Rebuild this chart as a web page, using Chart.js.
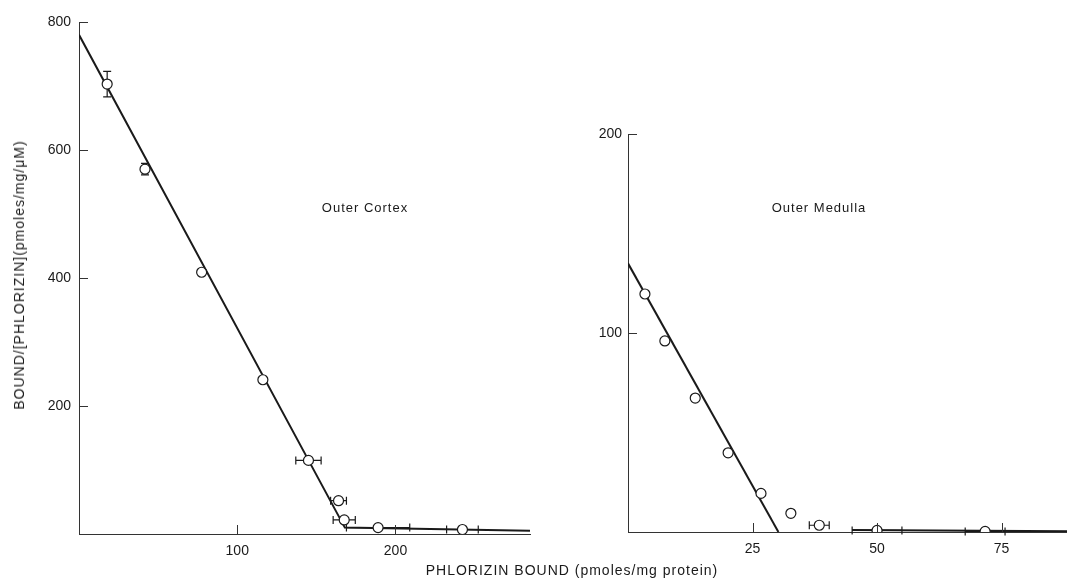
<!DOCTYPE html>
<html><head><meta charset="utf-8">
<script src="https://cdn.jsdelivr.net/npm/chart.js@4/dist/chart.umd.min.js"></script>
<style>
html,body{margin:0;padding:0;background:#fff}
body{width:1067px;height:582px;overflow:hidden;position:relative;font-family:"Liberation Sans",Arial,sans-serif;color:#1a1a1a}
canvas{position:absolute;top:0}
#c1{left:0}
#c2{left:540px}
.lbl{position:absolute;font-size:13px;letter-spacing:1px;white-space:nowrap;transform:translate(-50%,-50%)}
.big{font-size:14px}
</style></head><body>
<canvas id="c1" width="540" height="582" style="width:540px;height:582px"></canvas>
<canvas id="c2" width="535" height="582" style="width:535px;height:582px"></canvas>
<div class="lbl" style="left:365px;top:207px">Outer Cortex</div>
<div class="lbl" style="left:819px;top:207px">Outer Medulla</div>
<div class="lbl big" style="left:572px;top:570px">PHLORIZIN BOUND (pmoles/mg protein)</div>
<div class="lbl big" style="left:19px;top:275px;transform:translate(-50%,-50%) rotate(-90deg)">BOUND/[PHLORIZIN](pmoles/mg/μM)</div>
<script>
// ---- Outer Cortex data ----
const cortexX    = [17.8, 41.7, 77.5, 116.2, 145, 164, 167.6, 189, 242.3];
const cortexY    = [703, 570, 409, 241, 115, 52, 22, 10, 7];
const cortexXErr = [0, 0, 0, 0, 8, 5, 7, 20, 10];
const cortexYErr = [20, 9, 0, 0, 0, 0, 0, 0, 0];
const cortexFitX = [0, 168, 285];
const cortexFitY = [780, 10, 5];
const cortexXTicks = [100, 200];
const cortexYTicks = [200, 400, 600, 800];

// ---- Outer Medulla data ----
const medullaX    = [3.4, 7.4, 13.5, 20.1, 26.7, 32.7, 38.4, 50, 71.7];
const medullaY    = [119.6, 96, 67.3, 39.8, 19.4, 9.4, 3.4, 0.8, 0.3];
const medullaXErr = [0, 0, 0, 0, 0, 0, 2, 5, 4];
const medullaYErr = [0, 0, 0, 0, 0, 0, 0, 0, 0];
const medullaFitX  = [0, 30.2];
const medullaFitY  = [135, 0];
const medullaFit2X = [45, 90];
const medullaFit2Y = [1, 0.3];
const medullaXTicks = [25, 50, 75];
const medullaYTicks = [100, 200];

const FONT = "'Liberation Sans', Arial, sans-serif";
const INK = '#1a1a1a';

const pts = (xs, ys) => xs.map((v, i) => ({x: v, y: ys[i]}));

const errPlugin = {
  id: 'errBars',
  beforeDatasetsDraw(chart, args, o) {
    const {ctx, scales: {x, y}} = chart;
    ctx.save();
    ctx.strokeStyle = INK; ctx.lineWidth = 1.2;
    ctx.beginPath();
    o.xs.forEach((xv, i) => {
      const px = x.getPixelForValue(xv), py = y.getPixelForValue(o.ys[i]);
      const xe = o.xe[i], ye = o.ye[i], c = 4;
      if (xe) {
        const l = x.getPixelForValue(xv - xe), r = x.getPixelForValue(xv + xe);
        ctx.moveTo(l, py); ctx.lineTo(r, py);
        ctx.moveTo(l, py - c); ctx.lineTo(l, py + c);
        ctx.moveTo(r, py - c); ctx.lineTo(r, py + c);
      }
      if (ye) {
        const t = y.getPixelForValue(o.ys[i] + ye), b = y.getPixelForValue(o.ys[i] - ye);
        ctx.moveTo(px, t); ctx.lineTo(px, b);
        ctx.moveTo(px - c, t); ctx.lineTo(px + c, t);
        ctx.moveTo(px - c, b); ctx.lineTo(px + c, b);
      }
    });
    ctx.stroke();
    ctx.restore();
  }
};

const tickPlugin = {
  id: 'innerTicks',
  afterDraw(chart, args, o) {
    const {ctx, scales: {x, y}, chartArea: a} = chart;
    ctx.save();
    ctx.strokeStyle = '#333'; ctx.lineWidth = 1;
    ctx.beginPath();
    o.x.forEach(v => {
      const px = Math.round(x.getPixelForValue(v)) + 0.5;
      ctx.moveTo(px, a.bottom); ctx.lineTo(px, a.bottom - 9);
    });
    o.y.forEach(v => {
      const py = Math.round(y.getPixelForValue(v)) + 0.5;
      ctx.moveTo(a.left, py); ctx.lineTo(a.left + 9, py);
    });
    ctx.stroke();
    ctx.restore();
  }
};

function axis(min, max, ticks, fit, pad) {
  return {
    type: 'linear', min, max,
    afterBuildTicks: s => { s.ticks = ticks.map(v => ({value: v})); },
    afterFit: fit,
    grid: {display: true, drawOnChartArea: false, drawTicks: false},
    border: {display: true, color: '#333', width: 1},
    ticks: {padding: pad, autoSkip: false, maxRotation: 0, color: INK, font: {family: FONT, size: 14}}
  };
}

function makeChart(id, cfg) {
  return new Chart(document.getElementById(id), {
    type: 'scatter',
    data: {datasets: cfg.datasets},
    options: {
      responsive: false, animation: false,
      layout: {padding: cfg.padding},
      plugins: {
        legend: {display: false}, tooltip: {enabled: false},
        errBars: cfg.err, innerTicks: cfg.ticks
      },
      scales: {
        x: axis(cfg.xmin, cfg.xmax, cfg.ticks.x, s => { s.height = cfg.xh; }, 9),
        y: axis(cfg.ymin, cfg.ymax, cfg.ticks.y, s => { s.width = cfg.yw; }, cfg.ypad)
      }
    },
    plugins: [errPlugin, tickPlugin]
  });
}

const pointDs = (xs, ys) => ({
  data: pts(xs, ys), showLine: false, pointRadius: 5, pointBorderWidth: 1.2,
  pointBorderColor: INK, pointBackgroundColor: '#fff'
});
const lineDs = (xs, ys) => ({
  data: pts(xs, ys), showLine: true, pointRadius: 0, borderColor: INK, borderWidth: 2
});

makeChart('c1', {
  datasets: [pointDs(cortexX, cortexY), lineDs(cortexFitX, cortexFitY)],
  padding: {left: 0, top: 22, right: 10, bottom: 0},
  xmin: 0, xmax: 285, ymin: 0, ymax: 800, xh: 48, yw: 79, ypad: 8,
  err: {xs: cortexX, ys: cortexY, xe: cortexXErr, ye: cortexYErr},
  ticks: {x: cortexXTicks, y: cortexYTicks}
});

makeChart('c2', {
  datasets: [pointDs(medullaX, medullaY), lineDs(medullaFitX, medullaFitY), lineDs(medullaFit2X, medullaFit2Y)],
  padding: {left: 0, top: 134, right: 0, bottom: 0},
  xmin: 0, xmax: 88.5, ymin: 0, ymax: 200, xh: 50, yw: 88, ypad: 6,
  err: {xs: medullaX, ys: medullaY, xe: medullaXErr, ye: medullaYErr},
  ticks: {x: medullaXTicks, y: medullaYTicks}
});
</script>
</body></html>
